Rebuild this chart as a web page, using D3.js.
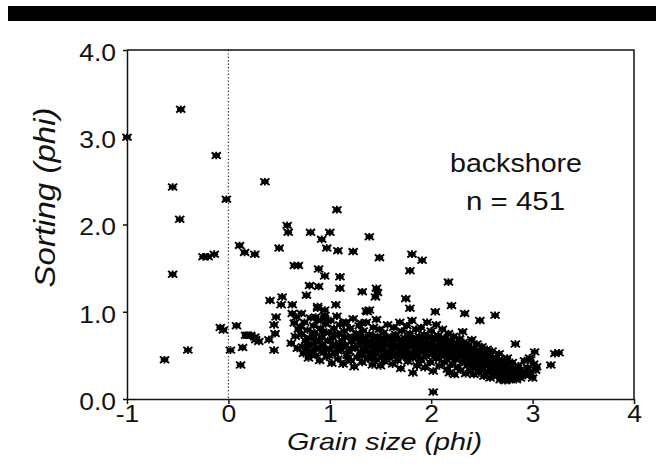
<!DOCTYPE html>
<html>
<head>
<meta charset="utf-8">
<script src="https://cdn.jsdelivr.net/npm/d3@7"></script>
<style>
  body { margin: 0; background: #fff; }
  text { font-family: "Liberation Sans", Arial, sans-serif; fill: #111; }
</style>
</head>
<body>
<svg id="chart"></svg>
<script>
// axis ticks
const xTicks = [-1, 0, 1, 2, 3, 4];
const yTicks = [0, 1, 2, 3, 4];
const sampleLabel = 'backshore';
const sampleCount = 451;

// [grain size, sorting]
const leftScatter = [
  [-1.00,3.00],[-0.47,3.32],[-0.12,2.79],[-0.55,2.43],[-0.02,2.29],[-0.48,2.06],
  [-0.25,1.63],[-0.20,1.63],[-0.14,1.66],[-0.55,1.43],
  [-0.08,0.82],[-0.05,0.79],[-0.63,0.45],[-0.40,0.56],
  [0.11,1.76],[0.16,1.68],[0.26,1.66],
  [0.08,0.84],[0.19,0.73],[0.22,0.73],[0.27,0.68],[0.02,0.56],[0.14,0.59],
  [0.12,0.39],[0.17,0.73],[0.26,0.71],[0.30,0.66]
];
const upperScatter = [
  [0.36,2.49],[1.07,2.17],[0.58,1.99],[0.59,1.91],[0.81,1.91],[1.00,1.91],[0.92,1.83],[1.39,1.86],
  [0.50,1.73],[0.97,1.73],[1.08,1.70],[1.23,1.69],[1.49,1.62],[1.81,1.66],[1.91,1.59],[1.79,1.47],
  [2.17,1.34],[0.65,1.53],[0.69,1.53],[0.89,1.49],[0.95,1.41],[1.10,1.40],[0.80,1.30],[0.89,1.29],
  [1.10,1.27],[1.32,1.23],[1.46,1.27],[1.47,1.22],[1.45,1.17],[0.77,1.19],[0.53,1.17],[0.41,1.13],
  [0.52,1.08],[0.63,1.08],[0.88,1.06],[1.06,1.08],[1.36,1.01],[1.75,1.15],[1.79,1.04],[2.20,1.07],
  [2.04,1.00],[2.33,0.98],[2.48,0.90],[2.63,0.96],[1.39,1.02]
];
const midScatter = [
  [0.47,0.94],[0.45,0.85],[0.46,0.75],[0.63,0.98],[0.67,0.94],[0.65,0.87],[0.40,0.68],[0.45,0.56],
  [0.62,0.64],[0.72,0.98],[0.88,1.04],[0.95,1.02],[0.86,0.94],[0.95,0.92],[1.14,0.87],[1.31,0.87],
  [1.37,1.00],[0.66,0.72],[0.69,0.80],[0.68,0.58]
];
const mainCloud = [
  [0.71,0.83],[0.72,0.74],[0.73,0.60],[0.74,0.52],[0.75,0.88],[0.76,0.67],[0.77,0.57],[0.78,0.79],
  [0.79,0.47],[0.80,0.70],[0.81,0.93],[0.82,0.63],[0.83,0.55],[0.84,0.84],
  [0.85,0.76],[0.86,0.50],[0.87,0.66],[0.88,0.90],[0.89,0.58],[0.90,0.44],[0.91,0.81],[0.92,0.71],
  [0.93,0.62],[0.94,0.53],[0.95,0.96],[0.96,0.86],[0.97,0.48],[0.98,0.67],[0.99,0.76],
  [1.00,0.58],[1.01,0.90],[1.02,0.41],[1.03,0.70],[1.04,0.81],[1.05,0.52],[1.06,0.63],[1.07,0.95],
  [1.08,0.46],[1.09,0.74],[1.10,0.85],[1.11,0.57],[1.12,0.67],[1.13,0.40],[1.14,0.78],
  [1.15,0.62],[1.16,0.88],[1.17,0.50],[1.18,0.71],[1.19,0.55],[1.20,0.81],[1.21,0.44],[1.22,0.66],
  [1.23,0.92],[1.24,0.37],[1.25,0.59],[1.26,0.75],[1.27,0.48],[1.28,0.69],[1.29,0.84],
  [1.30,0.53],[1.31,0.64],[1.32,0.42],[1.33,0.78],[1.34,0.58],[1.35,0.70],[1.36,0.88],[1.37,0.47],
  [1.38,0.61],[1.39,0.74],[1.40,0.52],[1.41,0.66],[1.42,0.39],[1.43,0.82],[1.44,0.57],
  [1.45,0.63],[1.46,0.45],[1.46,0.91],[1.47,0.72],[1.48,0.55],[1.49,0.80],[1.50,0.38],[1.50,0.66],
  [1.51,0.49],[1.52,0.60],[1.53,0.76],[1.54,0.43],[1.55,0.69],[1.56,0.54],[1.57,0.85],[1.58,0.62],
  [1.59,0.47],
  [1.60,0.71],[1.61,0.57],[1.62,0.40],[1.62,0.65],[1.63,0.82],[1.64,0.51],[1.65,0.74],[1.66,0.60],
  [1.67,0.44],[1.68,0.68],[1.69,0.88],[1.70,0.55],[1.71,0.78],[1.72,0.63],[1.73,0.48],[1.74,0.70],
  [1.75,0.58],[1.76,0.84],[1.77,0.43],[1.77,0.66],[1.78,0.52],[1.79,0.75],[1.80,0.61],[1.81,0.90],
  [1.82,0.47],[1.83,0.69],[1.84,0.56],[1.85,0.80],[1.86,0.38],[1.86,0.64],[1.87,0.50],[1.88,0.72],
  [1.89,0.59],
  [1.90,0.44],[1.90,0.82],[1.91,0.67],[1.92,0.54],[1.93,0.74],[1.94,0.36],[1.94,0.61],[1.95,0.49],
  [1.96,0.88],[1.97,0.70],[1.98,0.57],[1.99,0.42],[2.00,0.64],[2.00,0.78],[2.01,0.51],[2.02,0.32],
  [2.03,0.69],[2.04,0.58],
  [2.05,0.46],[2.05,0.85],[2.06,0.62],[2.07,0.73],[2.08,0.38],[2.08,0.54],[2.09,0.66],[2.10,0.49],
  [2.11,0.80],[2.12,0.59],[2.13,0.42],[2.13,0.70],[2.14,0.52],[2.15,0.63],[2.16,0.34],[2.17,0.75],
  [2.18,0.47],[2.18,0.30],[2.19,0.57],
  [2.20,0.67],[2.21,0.40],[2.21,0.52],[2.22,0.72],[2.23,0.28],[2.23,0.60],[2.24,0.45],[2.25,0.64],
  [2.26,0.36],[2.27,0.56],[2.28,0.69],[2.28,0.48],[2.29,0.33],[2.30,0.60],[2.31,0.42],[2.32,0.65],
  [2.33,0.50],[2.34,0.29],
  [2.35,0.57],[2.36,0.39],[2.37,0.62],[2.37,0.46],[2.38,0.33],[2.39,0.54],[2.40,0.68],[2.41,0.42],
  [2.42,0.28],[2.42,0.58],[2.43,0.49],[2.44,0.36],[2.45,0.63],[2.46,0.45],[2.47,0.30],[2.48,0.55],
  [2.49,0.40],
  [2.50,0.60],[2.51,0.34],[2.51,0.48],[2.52,0.26],[2.53,0.53],[2.54,0.41],[2.55,0.57],[2.56,0.31],
  [2.57,0.45],[2.58,0.24],[2.58,0.50],[2.59,0.37],[2.60,0.55],[2.61,0.28],[2.62,0.43],[2.63,0.33],
  [2.64,0.48],
  [2.65,0.26],[2.66,0.39],[2.67,0.52],[2.68,0.22],[2.69,0.34],[2.70,0.45],[2.71,0.28],[2.72,0.40],
  [2.73,0.21],[2.74,0.32],[2.75,0.47],[2.76,0.25],[2.77,0.36],[2.78,0.22],[2.79,0.30],
  [2.80,0.42],[2.81,0.25],[2.82,0.34],[2.84,0.22],[2.85,0.29],[2.86,0.38],[2.88,0.24],[2.90,0.31],
  [2.92,0.44],[2.93,0.27],[2.95,0.36],[2.97,0.47],[2.98,0.30],[3.01,0.40],[3.03,0.33]
];
// the solid black middle of the cloud
const denseCore = [
  [0.78,0.62],[0.81,0.51],[0.84,0.72],[0.87,0.58],[0.90,0.66],[0.93,0.77],[0.96,0.57],[0.99,0.50],
  [1.03,0.61],[1.05,0.74],[1.08,0.55],[1.12,0.62],[1.15,0.71],[1.18,0.47],[1.21,0.58],[1.24,0.69],
  [1.27,0.61],[1.30,0.74],[1.32,0.50],[1.34,0.66],[1.37,0.55],[1.39,0.63],[1.41,0.46],[1.43,0.70],
  [1.45,0.52],[1.47,0.60],[1.49,0.68],[1.51,0.56],[1.53,0.64],[1.55,0.48],[1.57,0.71],[1.58,0.53],
  [1.61,0.63],[1.63,0.58],[1.64,0.69],[1.66,0.50],[1.69,0.61],[1.71,0.67],[1.72,0.52],[1.74,0.62],
  [1.76,0.56],[1.78,0.70],[1.80,0.49],[1.82,0.63],[1.84,0.68],[1.85,0.52],[1.87,0.60],[1.89,0.46],
  [1.91,0.58],[1.92,0.70],[1.95,0.63],[1.97,0.52],[1.99,0.61],[2.01,0.71],[2.02,0.55],[2.04,0.49],
  [2.06,0.68],[2.08,0.59],[2.10,0.63],[2.11,0.53],[2.14,0.58],[2.16,0.67],[2.17,0.50],[2.19,0.62],
  [2.21,0.56],[2.23,0.49],[2.25,0.57],[2.27,0.62],[2.29,0.51],[2.31,0.55],[2.33,0.44],[2.35,0.50],
  [2.37,0.54],[2.39,0.45],[2.41,0.52],[2.43,0.40],[2.45,0.48],[2.47,0.51],[2.49,0.35],[2.52,0.44],
  [2.54,0.50],[2.56,0.38],[2.58,0.42],[2.60,0.33],[2.62,0.38],[2.64,0.29],[2.66,0.44],[2.68,0.31],
  [2.70,0.37],[2.72,0.27],[2.74,0.40],[2.76,0.31],[2.78,0.27],[2.80,0.35],[2.82,0.29],[2.84,0.26],
  [2.87,0.33],[2.89,0.27]
];
const rightTail = [
  [2.02,0.08],[1.70,0.35],[1.82,0.30],[2.31,0.77],[2.83,0.63],[3.02,0.54],[3.22,0.52],[3.26,0.53],
  [3.18,0.39],[3.00,0.24],[2.98,0.45],[3.04,0.37],[2.96,0.30]
];

class ScatterPlot {
  constructor(_config, _data) {
    this.config = {
      parentElement: _config.parentElement,
      containerWidth: _config.containerWidth,
      containerHeight: _config.containerHeight,
      margin: {top: 50, right: 22, bottom: 74, left: 127},
    }
    this.data = _data;
    this.initVis();
  }

  initVis() {
    let vis = this;

    vis.width = vis.config.containerWidth - vis.config.margin.left - vis.config.margin.right;
    vis.height = vis.config.containerHeight - vis.config.margin.top - vis.config.margin.bottom;

    vis.xScale = d3.scaleLinear().range([0, vis.width]);
    vis.yScale = d3.scaleLinear().range([vis.height, 0]);

    vis.xAxis = d3.axisBottom(vis.xScale)
        .tickValues(xTicks)
        .tickFormat(d => String(d))
        .tickSize(5)
        .tickSizeOuter(0)
        .tickPadding(2);
    vis.yAxis = d3.axisLeft(vis.yScale)
        .tickValues(yTicks)
        .tickFormat(d3.format('.1f'))
        .tickSize(4)
        .tickSizeOuter(0)
        .tickPadding(7);

    vis.svg = d3.select(vis.config.parentElement)
        .attr('width', vis.config.containerWidth)
        .attr('height', vis.config.containerHeight);

    // heavy rule across the top of the figure
    vis.svg.append('rect')
        .attr('x', 8).attr('y', 6)
        .attr('width', vis.config.containerWidth - 8).attr('height', 15)
        .attr('fill', '#000');

    vis.chart = vis.svg.append('g')
        .attr('transform', `translate(${vis.config.margin.left},${vis.config.margin.top})`);

    vis.zeroLine = vis.chart.append('line').attr('class', 'zero-line');
    vis.marks = vis.chart.append('g').attr('class', 'marks');

    vis.xAxisG = vis.chart.append('g')
        .attr('class', 'axis x-axis')
        .attr('transform', `translate(0,${vis.height})`);
    vis.yAxisG = vis.chart.append('g')
        .attr('class', 'axis y-axis');

    // top and right frame
    vis.chart.append('path')
        .attr('d', `M0,0H${vis.width}V${vis.height}`)
        .attr('fill', 'none')
        .attr('stroke', '#111')
        .attr('stroke-width', 1.5);

    vis.svg.append('text')
        .attr('x', 384.5).attr('y', 450)
        .attr('text-anchor', 'middle')
        .attr('font-size', 24)
        .attr('font-style', 'italic')
        .attr('textLength', 195)
        .attr('lengthAdjust', 'spacingAndGlyphs')
        .text('Grain size (phi)');

    vis.svg.append('text')
        .attr('transform', 'translate(55,197.5) rotate(-90)')
        .attr('text-anchor', 'middle')
        .attr('font-size', 29)
        .attr('font-style', 'italic')
        .attr('textLength', 180)
        .attr('lengthAdjust', 'spacingAndGlyphs')
        .text('Sorting (phi)');

    vis.svg.append('text')
        .attr('x', 516).attr('y', 172)
        .attr('text-anchor', 'middle')
        .attr('font-size', 25)
        .attr('textLength', 132)
        .attr('lengthAdjust', 'spacingAndGlyphs')
        .text(sampleLabel);

    vis.svg.append('text')
        .attr('x', 515.5).attr('y', 210)
        .attr('text-anchor', 'middle')
        .attr('font-size', 25)
        .attr('textLength', 99)
        .attr('lengthAdjust', 'spacingAndGlyphs')
        .text(`n = ${sampleCount}`);

    vis.updateVis();
  }

  updateVis() {
    let vis = this;
    vis.xScale.domain([-1, 4]);
    vis.yScale.domain([0, 4]);
    vis.renderVis();
  }

  renderVis() {
    let vis = this;

    vis.zeroLine
        .attr('x1', vis.xScale(0)).attr('x2', vis.xScale(0))
        .attr('y1', 0).attr('y2', vis.height)
        .attr('stroke', '#222')
        .attr('stroke-width', 1.2)
        .attr('stroke-dasharray', '1.2,2.2');

    // asterisk style marker with a solid core, a bit wider than tall
    const star = 'M-4.6,-3.2L4.6,3.2M-4.6,3.2L4.6,-3.2M0,-3.8L0,3.8M-3.8,0L3.8,0';
    const core = 'M-2.6,-2.2H2.6V2.2H-2.6Z';

    const mark = vis.marks.selectAll('g.mark')
        .data(vis.data)
      .join('g')
        .attr('class', 'mark')
        .attr('transform', d => `translate(${vis.xScale(d[0])},${vis.yScale(d[1])})`);

    mark.append('path')
        .attr('d', star)
        .attr('fill', 'none')
        .attr('stroke', '#000')
        .attr('stroke-width', 1.9);
    mark.append('path')
        .attr('d', core)
        .attr('fill', '#000');

    vis.xAxisG.call(vis.xAxis);
    vis.yAxisG.call(vis.yAxis);

    vis.svg.selectAll('.axis path, .axis line')
        .attr('stroke', '#111')
        .attr('stroke-width', 1.5);

    vis.svg.selectAll('.axis text')
        .attr('font-family', '"Liberation Sans", Arial, sans-serif')
        .attr('font-size', 23)
        .attr('fill', '#111');
    vis.yAxisG.selectAll('text').attr('dy', '0.45em');

    // the scan is a little wider than tall, so stretch tick labels
    vis.svg.selectAll('.axis text').each(function() {
      const w = this.getComputedTextLength();
      d3.select(this)
          .attr('textLength', w * 1.15)
          .attr('lengthAdjust', 'spacingAndGlyphs');
    });
  }
}

const points = [...leftScatter, ...upperScatter, ...midScatter, ...mainCloud, ...denseCore, ...rightTail];

new ScatterPlot({
  parentElement: '#chart',
  containerWidth: 656,
  containerHeight: 473
}, points);
</script>
</body>
</html>
